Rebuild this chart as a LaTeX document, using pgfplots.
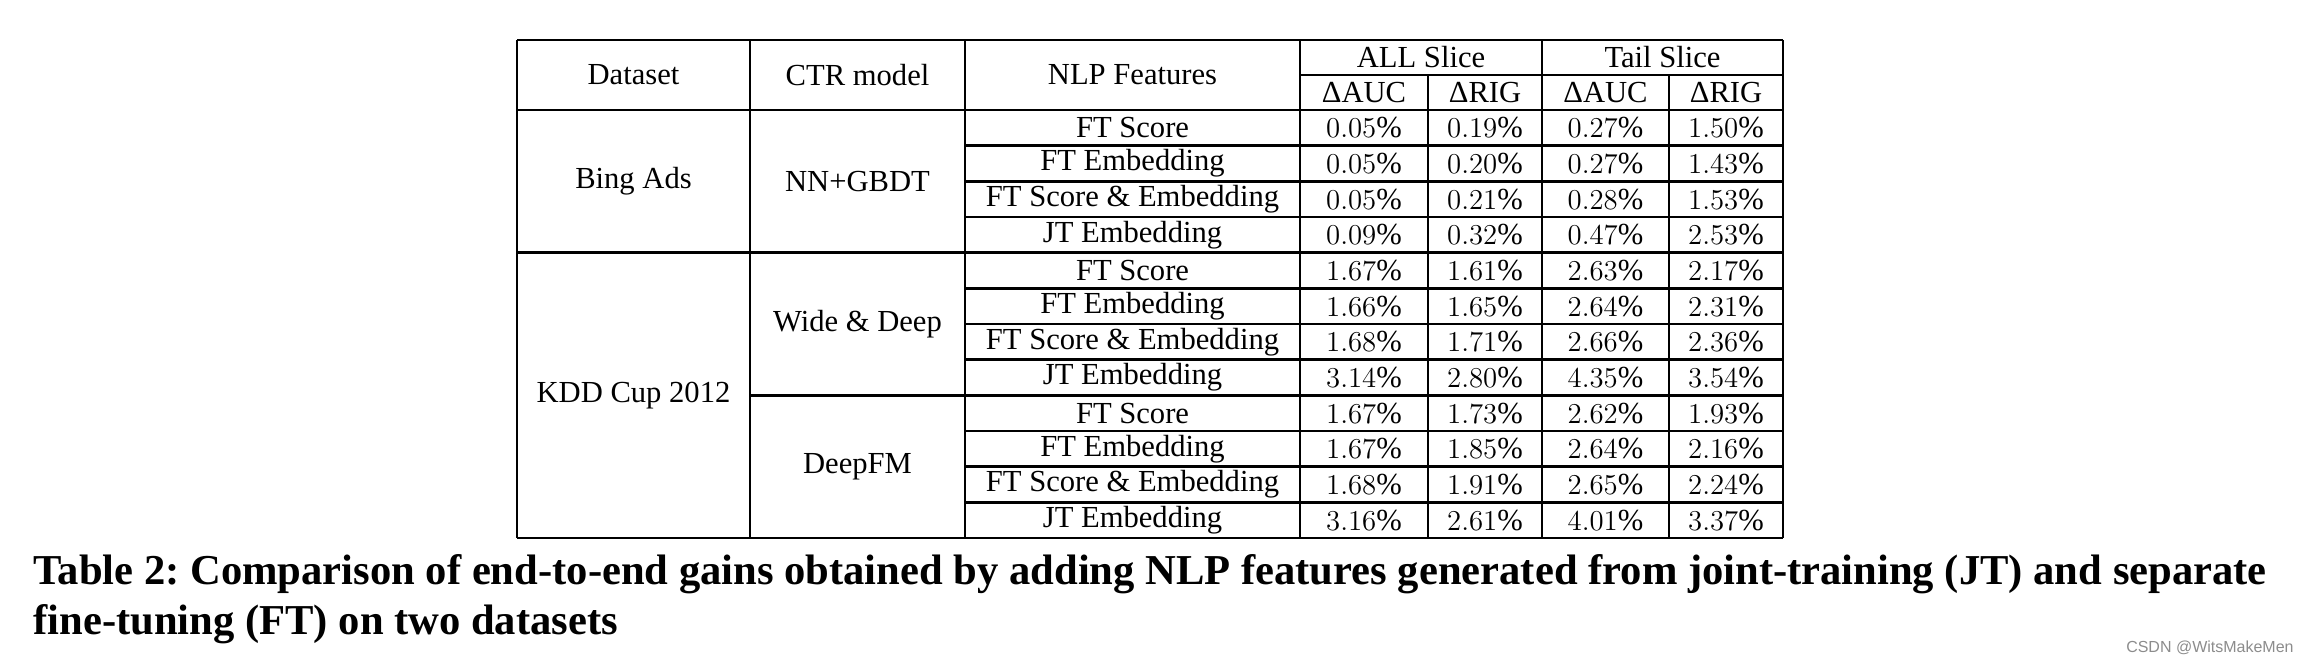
\documentclass[border=0pt]{standalone}
\usepackage{fontspec}
\setmainfont{Liberation Serif}
\newfontfamily\wmfont{Liberation Sans}
\usepackage{pgfplots}
\usepackage{pgfplotstable}
\pgfplotsset{compat=1.18}
\frenchspacing

\pgfplotstableread{
row allauc allrig tailauc tailrig
0 0.05 0.19 0.27 1.50
1 0.05 0.20 0.27 1.43
2 0.05 0.21 0.28 1.53
3 0.09 0.32 0.47 2.53
4 1.67 1.61 2.63 2.17
5 1.66 1.65 2.64 2.31
6 1.68 1.71 2.66 2.36
7 3.14 2.80 4.35 3.54
8 1.67 1.73 2.62 1.93
9 1.67 1.85 2.64 2.16
10 1.68 1.91 2.65 2.24
11 3.16 2.61 4.01 3.37
}\datatable

\pgfplotstableread{
row feat
0 {FT Score}
1 {FT Embedding}
2 {FT Score \& Embedding}
3 {JT Embedding}
4 {FT Score}
5 {FT Embedding}
6 {FT Score \& Embedding}
7 {JT Embedding}
8 {FT Score}
9 {FT Embedding}
10 {FT Score \& Embedding}
11 {JT Embedding}
}\feattable

\def\tfont{\fontsize{15.3}{18}\selectfont}

\begin{document}
\begin{tikzpicture}
\begin{axis}[
  width=1153pt, height=334pt, scale only axis,
  xmin=0, xmax=2306, ymin=0, ymax=668, y dir=reverse,
  hide axis, clip=false,
  every node near coord/.append style={anchor=center, font=\tfont, inner sep=0pt},
]
\path (axis cs:0,0) rectangle (axis cs:2306,668);
% grid
\draw[line width=1.25pt] (axis cs:517,40) -- (axis cs:1783,40);
\draw[line width=1.25pt] (axis cs:1300,75) -- (axis cs:1783,75);
\draw[line width=1.25pt] (axis cs:517,110) -- (axis cs:1783,110);
\draw[line width=1.25pt] (axis cs:965,145.67) -- (axis cs:1783,145.67);
\draw[line width=1.25pt] (axis cs:965,181.33) -- (axis cs:1783,181.33);
\draw[line width=1.25pt] (axis cs:965,217) -- (axis cs:1783,217);
\draw[line width=1.25pt] (axis cs:517,252.67) -- (axis cs:1783,252.67);
\draw[line width=1.25pt] (axis cs:965,288.33) -- (axis cs:1783,288.33);
\draw[line width=1.25pt] (axis cs:965,324) -- (axis cs:1783,324);
\draw[line width=1.25pt] (axis cs:965,359.67) -- (axis cs:1783,359.67);
\draw[line width=1.25pt] (axis cs:750,395.33) -- (axis cs:1783,395.33);
\draw[line width=1.25pt] (axis cs:965,431) -- (axis cs:1783,431);
\draw[line width=1.25pt] (axis cs:965,466.67) -- (axis cs:1783,466.67);
\draw[line width=1.25pt] (axis cs:965,502.33) -- (axis cs:1783,502.33);
\draw[line width=1.25pt] (axis cs:517,538) -- (axis cs:1783,538);
\draw[line width=1.25pt] (axis cs:517,40) -- (axis cs:517,538);
\draw[line width=1.25pt] (axis cs:750,40) -- (axis cs:750,538);
\draw[line width=1.25pt] (axis cs:965,40) -- (axis cs:965,538);
\draw[line width=1.25pt] (axis cs:1300,40) -- (axis cs:1300,538);
\draw[line width=1.25pt] (axis cs:1542,40) -- (axis cs:1542,538);
\draw[line width=1.25pt] (axis cs:1783,40) -- (axis cs:1783,538);
\draw[line width=1.25pt] (axis cs:1428,75) -- (axis cs:1428,538);
\draw[line width=1.25pt] (axis cs:1669,75) -- (axis cs:1669,538);
% header
\node[font=\tfont] at (axis cs:633.5,75) {Dataset};
\node[font=\tfont] at (axis cs:857.5,75) {CTR model};
\node[font=\tfont] at (axis cs:1132.5,75) {NLP Features};
\node[font=\tfont] at (axis cs:1421,57.5) {ALL Slice};
\node[font=\tfont] at (axis cs:1662.5,57.5) {Tail Slice};
\node[font=\tfont] at (axis cs:1364,92.5) {ΔAUC};
\node[font=\tfont] at (axis cs:1485,92.5) {ΔRIG};
\node[font=\tfont] at (axis cs:1605.5,92.5) {ΔAUC};
\node[font=\tfont] at (axis cs:1726,92.5) {ΔRIG};
% row groups
\node[font=\tfont] at (axis cs:633.5,181.3) {Bing Ads};
\node[font=\tfont] at (axis cs:633.5,395.4) {KDD Cup 2012};
\node[font=\tfont] at (axis cs:857.5,181.3) {NN+GBDT};
\node[font=\tfont] at (axis cs:857.5,324) {Wide \& Deep};
\node[font=\tfont] at (axis cs:857.5,466.7) {DeepFM};
% feature names
\addplot[draw=none, mark=none, nodes near coords, point meta=explicit symbolic]
  table[x expr=1132.5, y expr=127.8+35.67*\thisrow{row}, meta=feat] {\feattable};
% values
\addplot[draw=none, mark=none, nodes near coords={\pgfmathprintnumber[fixed,fixed zerofill,precision=2]{\pgfplotspointmeta}\%}, point meta=\thisrow{allauc}]
  table[x expr=1364, y expr=127.8+35.67*\thisrow{row}] {\datatable};
\addplot[draw=none, mark=none, nodes near coords={\pgfmathprintnumber[fixed,fixed zerofill,precision=2]{\pgfplotspointmeta}\%}, point meta=\thisrow{allrig}]
  table[x expr=1485, y expr=127.8+35.67*\thisrow{row}] {\datatable};
\addplot[draw=none, mark=none, nodes near coords={\pgfmathprintnumber[fixed,fixed zerofill,precision=2]{\pgfplotspointmeta}\%}, point meta=\thisrow{tailauc}]
  table[x expr=1605.5, y expr=127.8+35.67*\thisrow{row}] {\datatable};
\addplot[draw=none, mark=none, nodes near coords={\pgfmathprintnumber[fixed,fixed zerofill,precision=2]{\pgfplotspointmeta}\%}, point meta=\thisrow{tailrig}]
  table[x expr=1726, y expr=127.8+35.67*\thisrow{row}] {\datatable};
% caption
\node[anchor=base west, inner sep=0pt, font=\fontsize{21.3}{25}\selectfont\bfseries] at (axis cs:33,584)
  {Table 2: Comparison of end-to-end gains obtained by adding NLP features generated from joint-training (JT) and separate};
\node[anchor=base west, inner sep=0pt, font=\fontsize{21.3}{25}\selectfont\bfseries] at (axis cs:33,634)
  {fine-tuning (FT) on two datasets};
\node[anchor=base east, inner sep=0pt, font=\wmfont\fontsize{8}{9}\selectfont, text=black!45] at (axis cs:2294,652)
  {CSDN @WitsMakeMen};
\end{axis}
\end{tikzpicture}
\end{document}
